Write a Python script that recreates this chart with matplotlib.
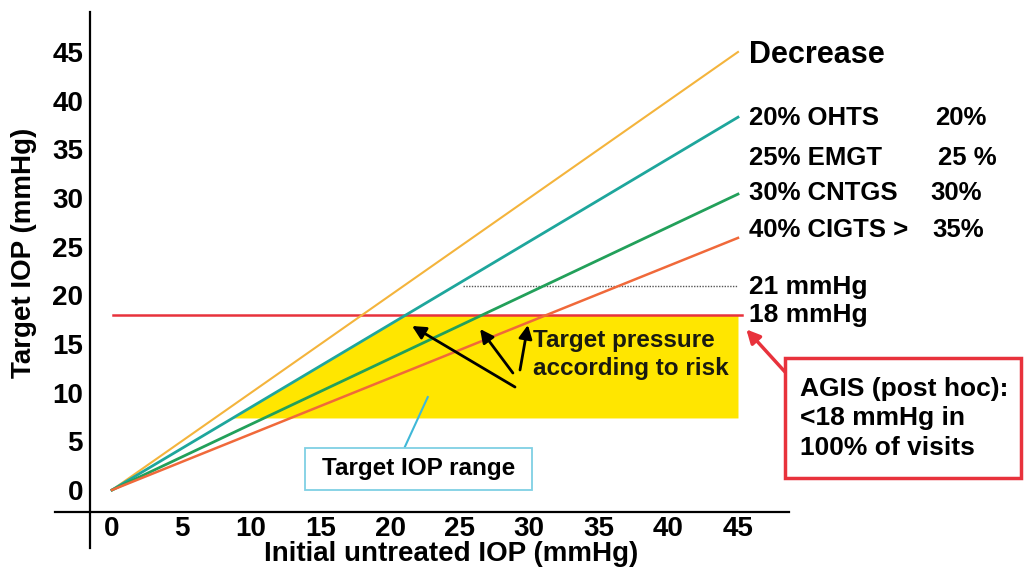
import numpy as np
import matplotlib
matplotlib.use("Agg")
import matplotlib.pyplot as plt

plt.rcParams['font.family'] = ['Liberation Sans', 'DejaVu Sans']
plt.rcParams['font.weight'] = 'bold'

# ---- data ----
initial_iop = [0, 45]
decrease_target = [0, 45.0]   # no decrease
ohts_target = [0, 38.3]       # 20% OHTS
cntgs_target = [0, 30.4]      # 30% CNTGS
cigts_target = [0, 25.9]      # 40% CIGTS
agis_limit = 18
reference_21 = 21
range_floor = 7.4
range_x = [8.7, 45]
x_ticks = [0, 5, 10, 15, 20, 25, 30, 35, 40, 45]
y_ticks = [0, 5, 10, 15, 20, 25, 30, 35, 40, 45]
row_left = ["20% OHTS", "25% EMGT", "30% CNTGS", "40% CIGTS >"]
row_right = ["20%", "25 %", "30%", "35%"]
row_y = [38.2, 34.1, 30.5, 26.7]
row_right_x = [59.17, 59.38, 58.8, 58.95]

fig = plt.figure(figsize=(10.24, 5.78), dpi=100)
ax = fig.add_axes([0, 0, 1, 1])
ax.set_xlim(-8.05, 65.56)
ax.set_ylim(-9.04, 50.34)
ax.patch.set_alpha(0)

for s in ['top', 'right']:
    ax.spines[s].set_visible(False)
ax.spines['bottom'].set_position(('data', -2.26))
ax.spines['bottom'].set_bounds(-4.1, 48.7)
ax.spines['left'].set_position(('data', -1.58))
ax.spines['left'].set_bounds(-5.96, 49.1)
for s in ['bottom', 'left']:
    ax.spines[s].set_linewidth(1.6)
    ax.spines[s].set_color('black')

ax.set_xticks(x_ticks)
ax.set_yticks(y_ticks)
ax.tick_params(axis='x', length=0, pad=3, labelsize=20)
ax.tick_params(axis='y', length=0, pad=5, labelsize=20)
for lab in ax.get_xticklabels() + ax.get_yticklabels():
    lab.set_fontweight('bold')

ax.text(24.4, -7.3, "Initial untreated IOP (mmHg)", ha='center', va='baseline',
        fontsize=20, fontweight='bold')
ax.text(-6.3, 24.4, "Target IOP (mmHg)", ha='center', va='center',
        rotation=90, fontsize=20, fontweight='bold')

# target range fill
xr = np.linspace(range_x[0], range_x[1], 300)
teal_y = np.interp(xr, initial_iop, ohts_target)
ax.fill_between(xr, range_floor, np.minimum(agis_limit, teal_y),
                where=np.minimum(agis_limit, teal_y) > range_floor,
                color='#FFE600', lw=0, zorder=1)

# lines
ax.plot(initial_iop, decrease_target, color='#F4B43C', lw=1.5, zorder=3)
ax.plot(initial_iop, ohts_target, color='#1EA69C', lw=2.0, zorder=3)
ax.plot(initial_iop, cntgs_target, color='#22A05A', lw=2.0, zorder=3)
ax.plot(initial_iop, cigts_target, color='#F0693A', lw=1.8, zorder=3)
ax.plot([0.1, 45.3], [agis_limit, agis_limit], color='#E8323C', lw=1.8, zorder=2)
ax.plot([25.2, 45], [reference_21, reference_21], color='#555555', lw=1.0,
        ls=(0, (1, 1)), zorder=2)

# right labels
ax.text(45.8, 44.7, "Decrease", ha='left', va='center', fontsize=22, fontweight='bold')
for l, r, yy, rx in zip(row_left, row_right, row_y, row_right_x):
    ax.text(45.8, yy, l, ha='left', va='center', fontsize=18.5, fontweight='bold')
    ax.text(rx, yy, r, ha='left', va='center', fontsize=18.5, fontweight='bold')
ax.text(45.8, 20.86, "21 mmHg", ha='left', va='center', fontsize=19, fontweight='bold')
ax.text(45.8, 17.98, "18 mmHg", ha='left', va='center', fontsize=19, fontweight='bold')

# target pressure annotation
ax.text(30.27, 15.4, "Target pressure", ha='left', va='center',
        fontsize=17.5, fontweight='bold', color='#1a1a10', zorder=5)
ax.text(30.27, 12.5, "according to risk", ha='left', va='center',
        fontsize=17.5, fontweight='bold', color='#1a1a10', zorder=5)
arrows = [((28.97, 10.58), (21.57, 16.85)),
          ((28.82, 12.02), (26.46, 16.54)),
          ((29.33, 12.33), (29.9, 16.95))]
for tail, head in arrows:
    ax.annotate("", xy=head, xytext=tail,
                arrowprops=dict(arrowstyle='-|>', color='black', lw=2.0,
                                mutation_scale=20, shrinkA=0, shrinkB=0), zorder=5)

# Target IOP range box
ax.plot([21.05, 22.7], [4.42, 9.55], color='#3FB8D8', lw=1.5, zorder=4)
ax.add_patch(plt.Rectangle((13.87, 0.0), 30.19 - 13.87, 4.32,
                           fc='white', ec='#7FD0E4', lw=1.3, zorder=4))
ax.text(22.03, 2.16, "Target IOP range", ha='center', va='center', fontsize=17.5,
        fontweight='bold', zorder=5)

# AGIS box
ax.annotate("", xy=(45.6, 16.5), xytext=(48.4, 12.1),
            arrowprops=dict(arrowstyle='-|>', color='#E8323C', lw=2.5,
                            mutation_scale=20, shrinkA=0, shrinkB=0), zorder=5)
box_x0 = (785 - 112) / 13.91
box_x1 = (1021 - 112) / 13.91
box_y0 = (490 - 478) / 9.733
box_y1 = (490 - 358) / 9.733
ax.add_patch(plt.Rectangle((box_x0, box_y0), box_x1 - box_x0, box_y1 - box_y0,
                           fc='white', ec='#E8323C', lw=2.5, zorder=4))
ax.text(49.46, 7.35, "AGIS (post hoc):\n<18 mmHg in\n100% of visits", ha='left',
        va='center', fontsize=19, fontweight='bold', linespacing=1.27, zorder=5)

fig.savefig("out.png", dpi=100)
